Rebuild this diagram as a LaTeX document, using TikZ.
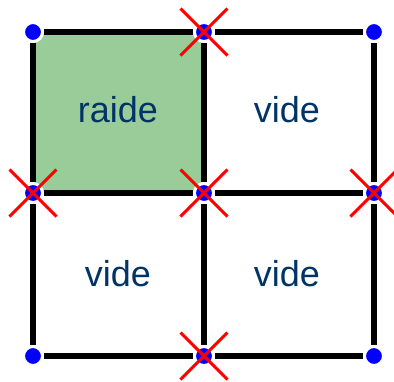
\documentclass[tikz,border=0pt]{standalone}
\usepackage{fontspec}
\setmainfont{Liberation Sans}
\usetikzlibrary{shapes.misc}
\definecolor{raidegreen}{HTML}{99CC99}
\definecolor{labelblue}{HTML}{003366}
\begin{document}
\begin{tikzpicture}[x=1pt,y=-1pt,
    pt/.style={circle,fill=blue,draw=white,line width=3pt,inner sep=0pt,minimum size=19pt},
    cut/.style={cross out,draw=red,line width=3pt,inner sep=0pt,minimum size=44pt},
    lbl/.style={text=labelblue,font=\fontsize{36}{40}\selectfont}]
      \useasboundingbox (0,0) rectangle (394,381);
      \fill[raidegreen] (33,32) rectangle (204,193);
      \draw
        (33,32) node[pt] (0){}
        (204,32) node[pt] (1){}
        (374,32) node[pt] (2){}
        (33,193) node[pt] (3){}
        (204,193) node[pt] (4){}
        (374,193) node[pt] (5){}
        (33,356) node[pt] (6){}
        (204,356) node[pt] (7){}
        (374,356) node[pt] (8){};
      \begin{scope}[line width=6pt]
        \draw (0) to (1);
        \draw (1) to (2);
        \draw (3) to (4);
        \draw (4) to (5);
        \draw (6) to (7);
        \draw (7) to (8);
        \draw (0) to (3);
        \draw (3) to (6);
        \draw (1) to (4);
        \draw (4) to (7);
        \draw (2) to (5);
        \draw (5) to (8);
      \end{scope}
      \node[cut] (x1) at (1) {};
      \node[cut] (x3) at (3) {};
      \node[cut] (x4) at (4) {};
      \node[cut] (x5) at (5) {};
      \node[cut] (x7) at (7) {};
      \node[lbl] (raide) at (118,110) {raide};
      \node[lbl] (vide1) at (287,110) {vide};
      \node[lbl] (vide2) at (118,274) {vide};
      \node[lbl] (vide3) at (287,274) {vide};
    \end{tikzpicture}
\end{document}
